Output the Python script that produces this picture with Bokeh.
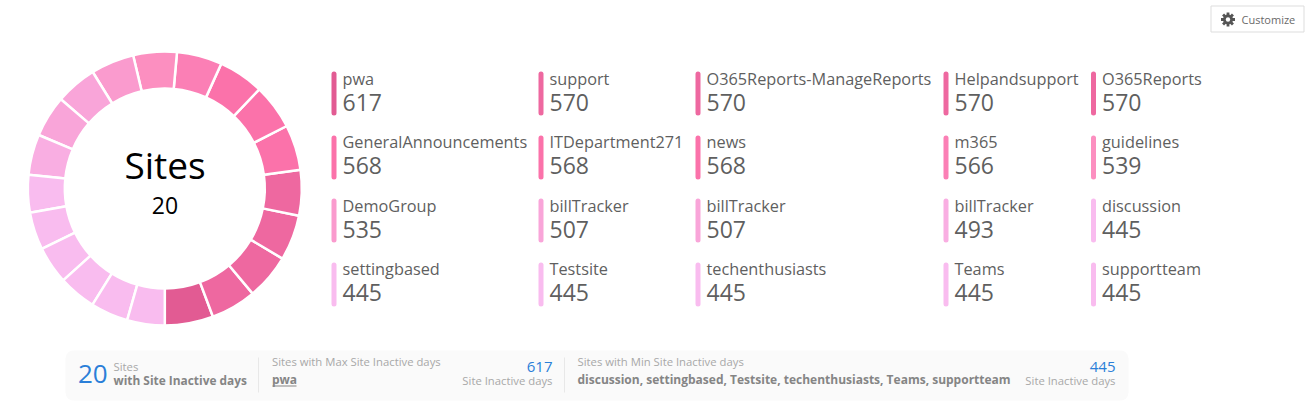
from bokeh.plotting import figure
from bokeh.models import Range1d, ColumnDataSource
from bokeh.core.properties import value
from bokeh.embed import file_html
from bokeh.resources import INLINE
import math

sites = ["pwa", "support", "O365Reports-ManageReports", "Helpandsupport", "O365Reports",
         "GeneralAnnouncements", "ITDepartment271", "news", "m365", "guidelines",
         "DemoGroup", "billTracker", "billTracker", "billTracker", "discussion",
         "settingbased", "Testsite", "techenthusiasts", "Teams", "supportteam"]
inactive = [617, 570, 570, 570, 570, 568, 568, 568, 566, 539,
            535, 507, 507, 493, 445, 445, 445, 445, 445, 445]
colors = ["#E25B93", "#EE68A0", "#EE68A0", "#EE68A0", "#EE68A0",
          "#FB72AA", "#FB72AA", "#FB72AA", "#FB7FB5", "#FC8FC0",
          "#FA9BCE", "#F9A5D9", "#F9A5D9", "#F9AEE2", "#F9BCEF",
          "#F9BCEF", "#F9BCEF", "#F9BCEF", "#F9BCEF", "#F9BCEF"]
col_x = [331, 538, 695, 943, 1090.5]
bar_top = [71, 135, 198, 262]
text_top = [71, 134, 198, 261]
W, H = 1315, 405
FONT = value("Open Sans")
GREY = "#5F5F5F"
BLUE = "#2B7FD8"
BOLD_GREY = "#858585"
LIGHT = "#A8A8A8"
# the reference's slices are less contrasted than pure shares of the total:
# measured slice angles fit value + this constant
SLICE_BASE = 148


def Y(py):
    return 405 - py


p = figure(width=W, height=H, output_backend="svg", toolbar_location=None,
           x_range=Range1d(0, W), y_range=Range1d(0, H),
           min_border=0, outline_line_color=None)
p.axis.visible = False
p.grid.visible = False
p.background_fill_color = "white"
p.border_fill_color = "white"


def txt(x, py, s, size, color, align="left", style="normal", font=FONT):
    # the rendered baseline sits about 0.37em below the requested one
    p.text([x], [Y(py - 0.37 * size)], text=[s], text_font=font, text_font_size=f"{size}px",
           text_color=color, text_align=align, text_baseline="alphabetic", text_font_style=style)


# donut
total = sum(v + SLICE_BASE for v in inactive)
a = -math.pi / 2
starts, ends = [], []
for v in inactive:
    starts.append(a)
    a += (v + SLICE_BASE) / total * 2 * math.pi
    ends.append(a)
src = ColumnDataSource(dict(s=starts, e=ends, c=colors))
p.annular_wedge(164.3, Y(188), inner_radius=100, outer_radius=137, start_angle="s", end_angle="e",
                source=src, fill_color="c", line_color="white", line_width=2.5,
                inner_radius_units="data", outer_radius_units="data")
txt(164.5, 178, "Sites", 37, "#000000", "center")
txt(164.5, 214, "20", 23, "#000000", "center")

# legend tiles
for i, (name, v, c) in enumerate(zip(sites, inactive, colors)):
    x = col_x[i % 5]
    p.segment([x + 2.5], [Y(bar_top[i // 5] + 2.5)], [x + 2.5], [Y(bar_top[i // 5] + 41.5)],
              line_color=c, line_width=5, line_cap="round")
    txt(x + 11, text_top[i // 5] + 14, name, 16.3, GREY)
    txt(x + 11, text_top[i // 5] + 40, str(v), 23, GREY)

# customize button
p.quad(left=[1210.5], right=[1303.5], top=[Y(5.5)], bottom=[Y(31.5)], fill_color="white", line_color="#DDDDDD")
gear_angles = [0, math.pi / 4, math.pi / 2, 3 * math.pi / 4]
p.rect([1227.5] * 4, [Y(19)] * 4, width=2.8, height=14, angle=gear_angles, fill_color="#555555", line_color=None)
p.circle([1227.5], [Y(19)], radius=5, fill_color="#555555", line_color=None)
p.circle([1227.5], [Y(19)], radius=2.2, fill_color="white", line_color=None)
txt(1241, 23.5, "Customize", 11, "#6A6A6A")

# summary strip
p.quad(left=[65], right=[1128], top=[Y(350)], bottom=[Y(400)], fill_color="#FAFAFA", line_color=None, border_radius=8)
p.segment([258, 564], [Y(357)] * 2, [258, 564], [Y(392)] * 2, line_color="#E8E8E8", line_width=1)
txt(77.5, 383, "20", 26, BLUE)
txt(113, 370, "Sites", 11.3, LIGHT)
txt(113, 384, "with Site Inactive days", 11.9, BOLD_GREY, "left", "bold")
txt(271.5, 365.5, "Sites with Max Site Inactive days", 11.3, LIGHT)
txt(271.5, 383, "pwa", 12, BOLD_GREY, "left", "bold")
p.segment([272], [Y(385.5)], [296], [Y(385.5)], line_color=BOLD_GREY, line_width=1)
txt(552, 372, "617", 15, BLUE, "right")
txt(552, 384, "Site Inactive days", 11.3, LIGHT, "right")
txt(577, 365.5, "Sites with Min Site Inactive days", 11.3, LIGHT)
txt(577, 383, "discussion, settingbased, Testsite, techenthusiasts, Teams, supportteam", 12, BOLD_GREY, "left", "bold")
txt(1115, 372, "445", 15, BLUE, "right")
txt(1115, 384, "Site Inactive days", 11.3, LIGHT, "right")

open("out.html", "w").write(file_html(p, INLINE))
